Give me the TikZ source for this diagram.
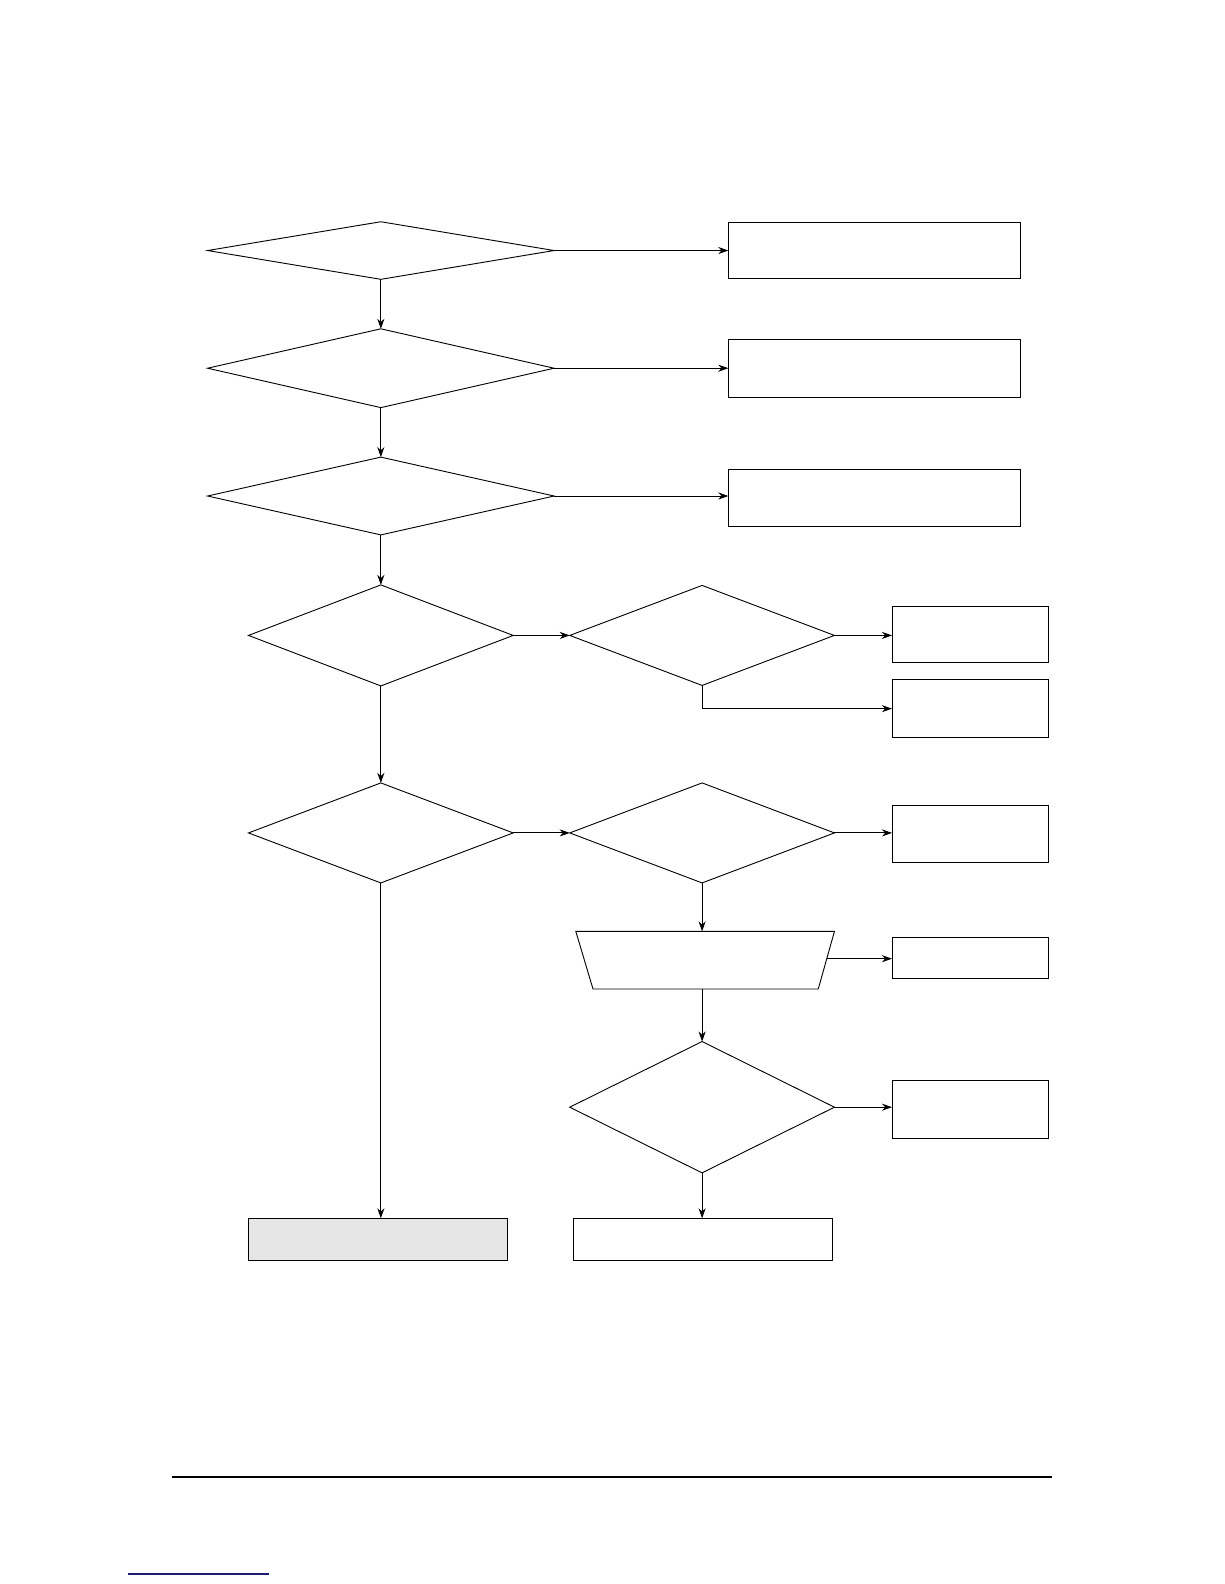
\documentclass[tikz,border=0pt]{standalone}
\usetikzlibrary{shapes.geometric,arrows.meta}
\definecolor{boxgray}{HTML}{E6E6E6}
\definecolor{navy}{HTML}{1A1A6E}
\begin{document}
\begin{tikzpicture}[x=1pt,y=-1pt,
  every node/.style={inner sep=0pt,outer sep=0pt},
  dia/.style={draw,diamond,line width=0.9pt},
  pbox/.style={draw,rectangle,line width=0.9pt},
  flow/.style={draw,line width=0.9pt,-{Stealth[length=10pt,width=7pt]}},
  line width=0.9pt]
\useasboundingbox (0,0) rectangle (1212,1568);
% left column diamonds
\node[dia,minimum width=343pt,minimum height=57pt] (d1) at (377,248) {};
\node[dia,minimum width=343pt,minimum height=78pt] (d2) at (377,364.5) {};
\node[dia,minimum width=343pt,minimum height=77pt] (d3) at (377,491) {};
\node[dia,minimum width=262pt,minimum height=100pt] (d4) at (377,629) {};
\node[dia,minimum width=262pt,minimum height=99pt] (d5) at (377,824.5) {};
% middle column
\node[dia,minimum width=262pt,minimum height=99pt] (d4b) at (695,629) {};
\node[dia,minimum width=262pt,minimum height=99pt] (d5b) at (695,824.5) {};
\node[minimum width=256pt,minimum height=57pt] (tr) at (698,950.5) {};
\draw (tr.north west) -- (tr.north east) -- ([xshift=-16pt]tr.south east) -- ([xshift=17pt]tr.south west) -- cycle;
\coordinate (trE) at (818.4,949);
\node[dia,minimum width=262pt,minimum height=130pt] (d6) at (695,1096) {};
% right boxes
\node[pbox,minimum width=289pt,minimum height=56pt] (b1) at (865.5,248) {};
\node[pbox,minimum width=289pt,minimum height=57pt] (b2) at (865.5,364.5) {};
\node[pbox,minimum width=289pt,minimum height=56pt] (b3) at (865.5,493) {};
\node[pbox,minimum width=155pt,minimum height=56pt] (b4a) at (960.5,628) {};
\node[pbox,minimum width=155pt,minimum height=57pt] (b4b) at (960.5,701.5) {};
\node[pbox,minimum width=155pt,minimum height=57pt] (b5a) at (960.5,825.5) {};
\node[pbox,minimum width=155pt,minimum height=41pt] (b5t) at (960.5,948.5) {};
\node[pbox,minimum width=155pt,minimum height=57pt] (b6a) at (960.5,1098.5) {};
% final boxes
\node[pbox,fill=boxgray,minimum width=256pt,minimum height=42pt] (fl) at (374,1227) {};
\node[pbox,minimum width=256pt,minimum height=42pt] (fr) at (696,1227) {};
% connectors
\draw[flow] (d1.east) -- (d1.east -| b1.west);
\draw[flow] (d2.east) -- (d2.east -| b2.west);
\draw[flow] (d3.east) -- (d3.east -| b3.west);
\draw[flow] (d1.south) -- (d2.north);
\draw[flow] (d2.south) -- (d3.north);
\draw[flow] (d3.south) -- (d4.north);
\draw[flow] (d4.south) -- (d5.north);
\draw[flow] (d5.south) -- (d5.south |- fl.north);
\draw[flow] (d4.east) -- (d4b.west);
\draw[flow] (d5.east) -- (d5b.west);
\draw[flow] (d4b.east) -- (d4b.east -| b4a.west);
\draw[flow] (d4b.south) |- (b4b.west);
\draw[flow] (d5b.east) -- (d5b.east -| b5a.west);
\draw[flow] (d5b.south) -- (d5b.south |- tr.north);
\draw[flow] (trE) -- (trE -| b5t.west);
\draw[flow] (d5b.south |- tr.south) -- (d6.north);
\draw[flow] (d6.east) -- (d6.east -| b6a.west);
\draw[flow] (d6.south) -- (d6.south |- fr.north);
% page rule and underline
\coordinate (r1) at (170,1462);
\coordinate (r2) at (1041,1462);
\draw[line width=2pt] (r1) -- (r2);
\coordinate (u1) at (127,1558);
\coordinate (u2) at (266,1558);
\draw[navy,line width=1.2pt] (u1) -- (u2);
\end{tikzpicture}
\end{document}
